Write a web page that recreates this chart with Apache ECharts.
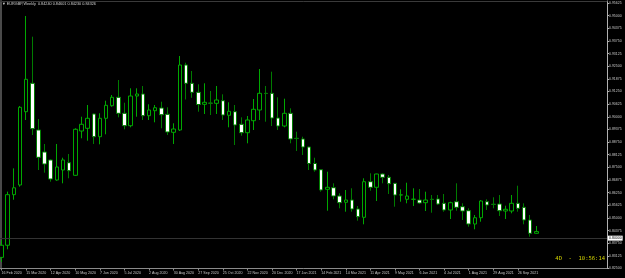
<!DOCTYPE html>
<html>
<head>
<meta charset="utf-8">
<script src="https://cdn.jsdelivr.net/npm/echarts/dist/echarts.min.js"></script>
<style>
html, body { margin: 0; padding: 0; background: #000; }
#main { width: 625px; height: 278px; }
</style>
</head>
<body>
<div id="main"></div>
<script>
// weekly bars, EURGBP
var weeks = [
    '16 Feb 2020', '23 Feb 2020', '1 Mar 2020', '8 Mar 2020', '15 Mar 2020', '22 Mar 2020', '29 Mar 2020',
    '5 Apr 2020', '12 Apr 2020', '19 Apr 2020', '26 Apr 2020', '3 May 2020', '10 May 2020', '17 May 2020',
    '24 May 2020', '31 May 2020', '7 Jun 2020', '14 Jun 2020', '21 Jun 2020', '28 Jun 2020', '5 Jul 2020',
    '12 Jul 2020', '19 Jul 2020', '26 Jul 2020', '2 Aug 2020', '9 Aug 2020', '16 Aug 2020', '23 Aug 2020',
    '30 Aug 2020', '6 Sep 2020', '13 Sep 2020', '20 Sep 2020', '27 Sep 2020', '4 Oct 2020', '11 Oct 2020',
    '18 Oct 2020', '25 Oct 2020', '1 Nov 2020', '8 Nov 2020', '15 Nov 2020', '22 Nov 2020', '29 Nov 2020',
    '6 Dec 2020', '13 Dec 2020', '20 Dec 2020', '27 Dec 2020', '3 Jan 2021', '10 Jan 2021', '17 Jan 2021',
    '24 Jan 2021', '31 Jan 2021', '7 Feb 2021', '14 Feb 2021', '21 Feb 2021', '28 Feb 2021', '7 Mar 2021',
    '14 Mar 2021', '21 Mar 2021', '28 Mar 2021', '4 Apr 2021', '11 Apr 2021', '18 Apr 2021', '25 Apr 2021',
    '2 May 2021', '9 May 2021', '16 May 2021', '23 May 2021', '30 May 2021', '6 Jun 2021', '13 Jun 2021',
    '20 Jun 2021', '27 Jun 2021', '4 Jul 2021', '11 Jul 2021', '18 Jul 2021', '25 Jul 2021', '1 Aug 2021',
    '8 Aug 2021', '15 Aug 2021', '22 Aug 2021', '29 Aug 2021', '5 Sep 2021', '12 Sep 2021', '19 Sep 2021',
    '26 Sep 2021', '3 Oct 2021', '10 Oct 2021', '17 Oct 2021'
];

var opens = [
    0.83050, 0.83650, 0.86150, 0.86628, 0.90251, 0.91655, 0.89347, 0.88259, 0.87864, 0.86875,
    0.87369, 0.87730, 0.87107, 0.89297, 0.89431, 0.90138, 0.89015, 0.89925, 0.90548, 0.90963,
    0.90172, 0.89559, 0.91027, 0.91126, 0.90053, 0.90301, 0.90434, 0.90123, 0.89233, 0.89347,
    0.92560, 0.91655, 0.91210, 0.90617, 0.90681, 0.90666, 0.90795, 0.90073, 0.90251, 0.89628,
    0.89213, 0.89806, 0.90335, 0.91161, 0.91161, 0.89940, 0.89544, 0.90172, 0.88936, 0.88902,
    0.88506, 0.87691, 0.87384, 0.86415, 0.86494, 0.86084, 0.85773, 0.85886, 0.85441, 0.85031,
    0.86791, 0.86514, 0.87171, 0.87008, 0.86712, 0.86133, 0.85921, 0.85921, 0.85886, 0.85753,
    0.85921, 0.85936, 0.85723, 0.85392, 0.85802, 0.85555, 0.85357, 0.84700, 0.85011, 0.85802,
    0.85674, 0.85689, 0.85342, 0.85342, 0.85723, 0.85525, 0.84898, 0.84240
];
var highs = [
    0.83900, 0.86300, 0.87450, 0.90533, 0.94982, 0.93959, 0.89890, 0.88655, 0.87898, 0.88655,
    0.87977, 0.88160, 0.89431, 0.90004, 0.90582, 0.90160, 0.90172, 0.90795, 0.91077, 0.91818,
    0.90696, 0.91408, 0.91408, 0.91522, 0.90617, 0.90582, 0.90746, 0.90469, 0.89678, 0.93005,
    0.92673, 0.92263, 0.91606, 0.91655, 0.91275, 0.91522, 0.91111, 0.90716, 0.90582, 0.89974,
    0.90039, 0.90879, 0.92362, 0.91522, 0.92229, 0.90963, 0.90894, 0.90419, 0.89263, 0.89015,
    0.88521, 0.87977, 0.87404, 0.87285, 0.86712, 0.86217, 0.86381, 0.86465, 0.85590, 0.86959,
    0.87206, 0.87185, 0.87206, 0.87122, 0.86720, 0.86415, 0.86741, 0.86465, 0.86430, 0.86297,
    0.86133, 0.86133, 0.86183, 0.85802, 0.86712, 0.85723, 0.85476, 0.85145, 0.85886, 0.85921,
    0.86020, 0.86133, 0.85604, 0.86133, 0.86593, 0.85723, 0.85145, 0.84601
];
var lows = [
    0.82820, 0.83450, 0.85900, 0.86544, 0.89841, 0.89099, 0.87369, 0.87236, 0.86791, 0.86840,
    0.86712, 0.86959, 0.87073, 0.88936, 0.88818, 0.88655, 0.88640, 0.89134, 0.90498, 0.89974,
    0.89381, 0.89480, 0.90004, 0.89841, 0.89841, 0.89727, 0.89431, 0.89099, 0.88655, 0.89297,
    0.90854, 0.90938, 0.90251, 0.90138, 0.90088, 0.90138, 0.89841, 0.89480, 0.88605, 0.89065,
    0.88689, 0.89347, 0.89841, 0.89757, 0.89544, 0.89347, 0.89480, 0.88689, 0.88309, 0.88111,
    0.87369, 0.87285, 0.86297, 0.85357, 0.85921, 0.85476, 0.85308, 0.85308, 0.84863, 0.84685,
    0.86346, 0.85837, 0.86712, 0.86183, 0.85555, 0.85802, 0.85723, 0.85590, 0.85689, 0.85342,
    0.85258, 0.85639, 0.85308, 0.84947, 0.85357, 0.84898, 0.84566, 0.84438, 0.84813, 0.85392,
    0.85476, 0.85095, 0.84947, 0.85229, 0.85308, 0.84685, 0.84072, 0.84230
];
var closes = [
    0.83650, 0.86150, 0.86490, 0.90469, 0.91853, 0.89411, 0.87997, 0.87666, 0.86924, 0.87518,
    0.87864, 0.87335, 0.89381, 0.89628, 0.89925, 0.89015, 0.89925, 0.90568, 0.90963, 0.90172,
    0.89559, 0.91027, 0.91126, 0.90053, 0.90335, 0.90449, 0.90103, 0.89248, 0.89396, 0.92560,
    0.91655, 0.91210, 0.90607, 0.90716, 0.90670, 0.90830, 0.90088, 0.90271, 0.89594, 0.89213,
    0.89841, 0.90370, 0.91161, 0.91150, 0.89940, 0.89544, 0.90172, 0.88902, 0.88925, 0.88506,
    0.87691, 0.87369, 0.86381, 0.86514, 0.86084, 0.85753, 0.85886, 0.85441, 0.85061, 0.86791,
    0.86514, 0.87171, 0.87008, 0.86692, 0.86133, 0.86140, 0.86084, 0.85925, 0.85738, 0.85886,
    0.85915, 0.85689, 0.85392, 0.85753, 0.85525, 0.85342, 0.84700, 0.85011, 0.85837, 0.85639,
    0.85670, 0.85357, 0.85427, 0.85723, 0.85476, 0.84898, 0.84240, 0.84326
];

// price scale
var priceMin = 0.825;
var priceStep = 0.00625;
var priceMax = 0.95724;
var emptyWeeks = 11;

var chart = echarts.init(document.getElementById('main'));

var categories = weeks.slice();
for (var i = 0; i < emptyWeeks; i++) {
    categories.push('');
}

var candles = weeks.map(function (w, i) {
    return [opens[i], closes[i], lows[i], highs[i]];
});

var last = weeks.length - 1;
var ohlcText = [opens[last], highs[last], lows[last], closes[last]].map(function (v) {
    return v.toFixed(5);
}).join(' ');

var showEvery4 = function (index, value) {
    return value !== '' && index % 4 === 0;
};

chart.setOption({
    backgroundColor: '#000',
    animation: false,
    title: [{
        text: '\u25BC EURGBP,Weekly  ' + ohlcText,
        left: 2,
        top: 2,
        padding: 0,
        textStyle: {
            color: '#d0d0d0',
            fontSize: 3.8,
            fontWeight: 'normal',
            fontFamily: 'Liberation Sans'
        }
    }, {
        text: '4D  -  10:56:14',
        right: 20,
        top: 256,
        padding: 0,
        textStyle: {
            color: '#d4d400',
            fontSize: 5.5,
            fontWeight: 'normal',
            fontFamily: 'DejaVu Sans Mono'
        }
    }],
    grid: {
        left: -1.5,
        right: 18,
        top: 1,
        bottom: 9.5,
        outerBoundsMode: 'none',
        containLabel: false
    },
    xAxis: [{
        type: 'category',
        data: categories,
        max: categories.length - 1,
        boundaryGap: true,
        axisLine: { lineStyle: { color: '#8a8a8a', width: 1 } },
        axisTick: {
            show: true,
            alignWithLabel: true,
            interval: showEvery4,
            length: 2,
            lineStyle: { color: '#8a8a8a' }
        },
        axisLabel: {
            interval: showEvery4,
            align: 'left',
            margin: 2,
            color: '#c8c8c8',
            fontSize: 3.6,
            fontFamily: 'Liberation Sans'
        },
        splitLine: { show: false }
    }, {
        type: 'category',
        data: categories,
        max: categories.length - 1,
        position: 'top',
        axisLine: { lineStyle: { color: '#3a3a3a', width: 1 } },
        axisTick: { show: false },
        axisLabel: { show: false }
    }],
    yAxis: [{
        type: 'value',
        position: 'right',
        scale: true,
        min: priceMin,
        max: priceMax,
        interval: priceStep,
        axisLine: { show: true, lineStyle: { color: '#b0b0b0', width: 1 } },
        axisTick: { show: true, length: 2, lineStyle: { color: '#b0b0b0' } },
        axisLabel: {
            margin: 2,
            color: '#c8c8c8',
            fontSize: 3.5,
            fontFamily: 'Liberation Sans',
            showMaxLabel: false,
            formatter: function (v) { return v.toFixed(5); }
        },
        splitLine: { show: false }
    }, {
        type: 'value',
        position: 'left',
        offset: -2.5,
        min: priceMin,
        max: priceMax,
        axisLine: { show: true, lineStyle: { color: '#4a4a4a', width: 2 } },
        axisTick: { show: false },
        axisLabel: { show: false },
        splitLine: { show: false }
    }],
    series: [{
        name: 'EURGBP',
        type: 'candlestick',
        data: candles,
        barWidth: 4,
        itemStyle: {
            color: '#000',
            color0: '#fff',
            borderColor: '#00a800',
            borderColor0: '#007c00',
            borderColorDoji: '#00a800',
            borderWidth: 1
        },
        markLine: {
            silent: true,
            symbol: ['none', 'none'],
            lineStyle: { color: '#333333', type: 'solid', width: 1, opacity: 1 },
            emphasis: { disabled: true },
            label: {
                position: 'end',
                distance: 1,
                backgroundColor: '#fff',
                color: '#000',
                padding: [0.5, 1],
                fontSize: 3.5,
                fontFamily: 'Liberation Sans',
                formatter: function (p) { return p.value.toFixed(5); }
            },
            data: [{ yAxis: closes[last] }]
        }
    }]
});
</script>
</body>
</html>
